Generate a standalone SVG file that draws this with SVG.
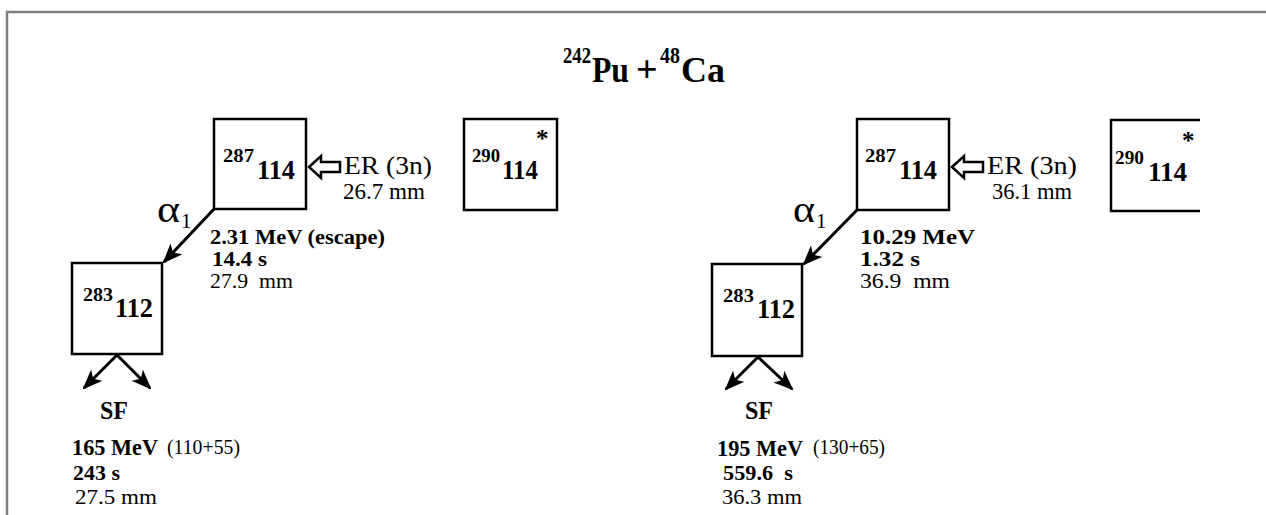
<svg xmlns="http://www.w3.org/2000/svg" width="1266" height="515" viewBox="0 0 1266 515">
<style>
  .t { font-family: "Liberation Serif", "Times New Roman", serif; fill: #000; }
  .b { font-weight: bold; }
  .big { font-size: 27px; font-weight: bold; }
  .sup { font-size: 19px; font-weight: bold; }
  .box { fill: #fff; stroke: #000; stroke-width: 2.5; }
  .ln { stroke: #000; stroke-width: 3; fill: none; }
  .hollow { fill: #fff; stroke: #000; stroke-width: 2.5; stroke-linejoin: miter; }
  .frame { stroke: #808080; stroke-width: 2.5; fill: none; }
</style>
<defs>
  <marker id="ah" viewBox="0 0 20 16" refX="18" refY="8" markerWidth="20" markerHeight="16" markerUnits="userSpaceOnUse" orient="auto">
    <path d="M0,0 L20,8 L0,16 L5,8 Z" fill="#000"/>
  </marker>
</defs>
<rect width="1266" height="515" fill="#fff"/>
<path class="frame" d="M7,515 V12 H1266"/>

<g id="title">
  <text class="t b" x="563" y="63" font-size="23" textLength="28" lengthAdjust="spacingAndGlyphs">242</text>
  <text class="t b" x="592" y="82" font-size="36" textLength="37" lengthAdjust="spacingAndGlyphs">Pu</text>
  <text class="t b" x="636" y="82" font-size="38">+</text>
  <text class="t b" x="660" y="63" font-size="23" textLength="20" lengthAdjust="spacingAndGlyphs">48</text>
  <text class="t b" x="681" y="82" font-size="36" textLength="44" lengthAdjust="spacingAndGlyphs">Ca</text>
</g>

<!-- Left panel -->
<g id="n287a">
  <rect class="box" x="214" y="119" width="92" height="90"/>
  <text class="t sup" x="223" y="162" textLength="31" lengthAdjust="spacingAndGlyphs">287</text>
  <text class="t big" x="257" y="179" textLength="38" lengthAdjust="spacingAndGlyphs">114</text>
</g>
<g id="n290a">
  <rect class="box" x="464" y="119" width="93" height="91"/>
  <text class="t sup" x="472" y="162" textLength="28" lengthAdjust="spacingAndGlyphs">290</text>
  <text class="t big" x="502" y="179" textLength="36" lengthAdjust="spacingAndGlyphs">114</text>
  <text class="t b" x="536" y="147" font-size="25">*</text>
</g>
<g id="n283a">
  <rect class="box" x="72" y="263" width="90" height="91"/>
  <text class="t sup" x="83" y="301" textLength="30" lengthAdjust="spacingAndGlyphs">283</text>
  <text class="t big" x="115" y="317" textLength="38" lengthAdjust="spacingAndGlyphs">112</text>
</g>

<!-- Right panel -->
<g id="n287b">
  <rect class="box" x="857" y="119" width="92" height="91"/>
  <text class="t sup" x="865" y="162" textLength="31" lengthAdjust="spacingAndGlyphs">287</text>
  <text class="t big" x="899" y="179" textLength="38" lengthAdjust="spacingAndGlyphs">114</text>
</g>
<g id="n290b">
  <path class="box" d="M1200,120 H1111 V211 H1200"/>
  <text class="t sup" x="1115" y="164" textLength="29" lengthAdjust="spacingAndGlyphs">290</text>
  <text class="t big" x="1148" y="181" textLength="39" lengthAdjust="spacingAndGlyphs">114</text>
  <text class="t b" x="1182" y="149" font-size="25">*</text>
</g>
<g id="n283b">
  <rect class="box" x="712" y="264" width="90" height="92"/>
  <text class="t sup" x="723" y="302" textLength="31" lengthAdjust="spacingAndGlyphs">283</text>
  <text class="t big" x="757" y="318" textLength="38" lengthAdjust="spacingAndGlyphs">112</text>
</g>

<g id="connectors">
  <!-- ER hollow arrows -->
  <path class="hollow" d="M309,167 L321,156 L321,162 L340,162 L340,172 L321,172 L321,178 Z"/>
  <path class="hollow" d="M952,167 L964,156 L964,162 L983,162 L983,172 L964,172 L964,178 Z"/>
  <!-- alpha decays -->
  <line class="ln" x1="214" y1="209" x2="164" y2="262" marker-end="url(#ah)"/>
  <line class="ln" x1="857" y1="210" x2="804" y2="264" marker-end="url(#ah)"/>
  <!-- SF arrows -->
  <line class="ln" x1="117" y1="355" x2="84" y2="388" marker-end="url(#ah)"/>
  <line class="ln" x1="117" y1="355" x2="150" y2="388" marker-end="url(#ah)"/>
  <line class="ln" x1="758" y1="357" x2="726" y2="389" marker-end="url(#ah)"/>
  <line class="ln" x1="758" y1="357" x2="792" y2="389" marker-end="url(#ah)"/>
</g>

<g id="labels">
  <!-- left -->
  <text class="t" x="344" y="174" font-size="26" textLength="88" lengthAdjust="spacingAndGlyphs">ER (3n)</text>
  <text class="t" x="343" y="199" font-size="23" textLength="82" lengthAdjust="spacingAndGlyphs">26.7 mm</text>
  <text class="t" x="157" y="222" font-size="38" textLength="23" lengthAdjust="spacingAndGlyphs">α</text>
  <text class="t" x="181" y="228" font-size="21">1</text>
  <text class="t b" x="210" y="244" font-size="22" textLength="175" lengthAdjust="spacingAndGlyphs">2.31 MeV (escape)</text>
  <text class="t b" x="212" y="266" font-size="22" textLength="55" lengthAdjust="spacingAndGlyphs">14.4 s</text>
  <text class="t" x="210" y="288" font-size="22" textLength="83" lengthAdjust="spacingAndGlyphs" xml:space="preserve">27.9  mm</text>
  <text class="t b" x="100" y="419" font-size="25" textLength="28" lengthAdjust="spacingAndGlyphs">SF</text>
  <text class="t b" x="72" y="455" font-size="23" textLength="86" lengthAdjust="spacingAndGlyphs">165 MeV</text>
  <text class="t" x="167" y="454" font-size="20" textLength="73" lengthAdjust="spacingAndGlyphs">(110+55)</text>
  <text class="t b" x="73" y="480" font-size="22" textLength="47" lengthAdjust="spacingAndGlyphs">243 s</text>
  <text class="t" x="75" y="504" font-size="22" textLength="82" lengthAdjust="spacingAndGlyphs">27.5 mm</text>
  <!-- right -->
  <text class="t" x="987" y="174" font-size="26" textLength="90" lengthAdjust="spacingAndGlyphs">ER (3n)</text>
  <text class="t" x="992" y="199" font-size="23" textLength="80" lengthAdjust="spacingAndGlyphs">36.1 mm</text>
  <text class="t" x="793" y="222" font-size="38" textLength="22" lengthAdjust="spacingAndGlyphs">α</text>
  <text class="t" x="816" y="228" font-size="21">1</text>
  <text class="t b" x="860" y="244" font-size="22" textLength="115" lengthAdjust="spacingAndGlyphs">10.29 MeV</text>
  <text class="t b" x="860" y="266" font-size="22" textLength="60" lengthAdjust="spacingAndGlyphs">1.32 s</text>
  <text class="t" x="860" y="288" font-size="22" textLength="90" lengthAdjust="spacingAndGlyphs" xml:space="preserve">36.9  mm</text>
  <text class="t b" x="745" y="419" font-size="25" textLength="28" lengthAdjust="spacingAndGlyphs">SF</text>
  <text class="t b" x="717" y="456" font-size="23" textLength="86" lengthAdjust="spacingAndGlyphs">195 MeV</text>
  <text class="t" x="813" y="454" font-size="20" textLength="72" lengthAdjust="spacingAndGlyphs">(130+65)</text>
  <text class="t b" x="723" y="480" font-size="22" textLength="70" lengthAdjust="spacingAndGlyphs" xml:space="preserve">559.6  s</text>
  <text class="t" x="722" y="504" font-size="22" textLength="80" lengthAdjust="spacingAndGlyphs">36.3 mm</text>
</g>
</svg>
